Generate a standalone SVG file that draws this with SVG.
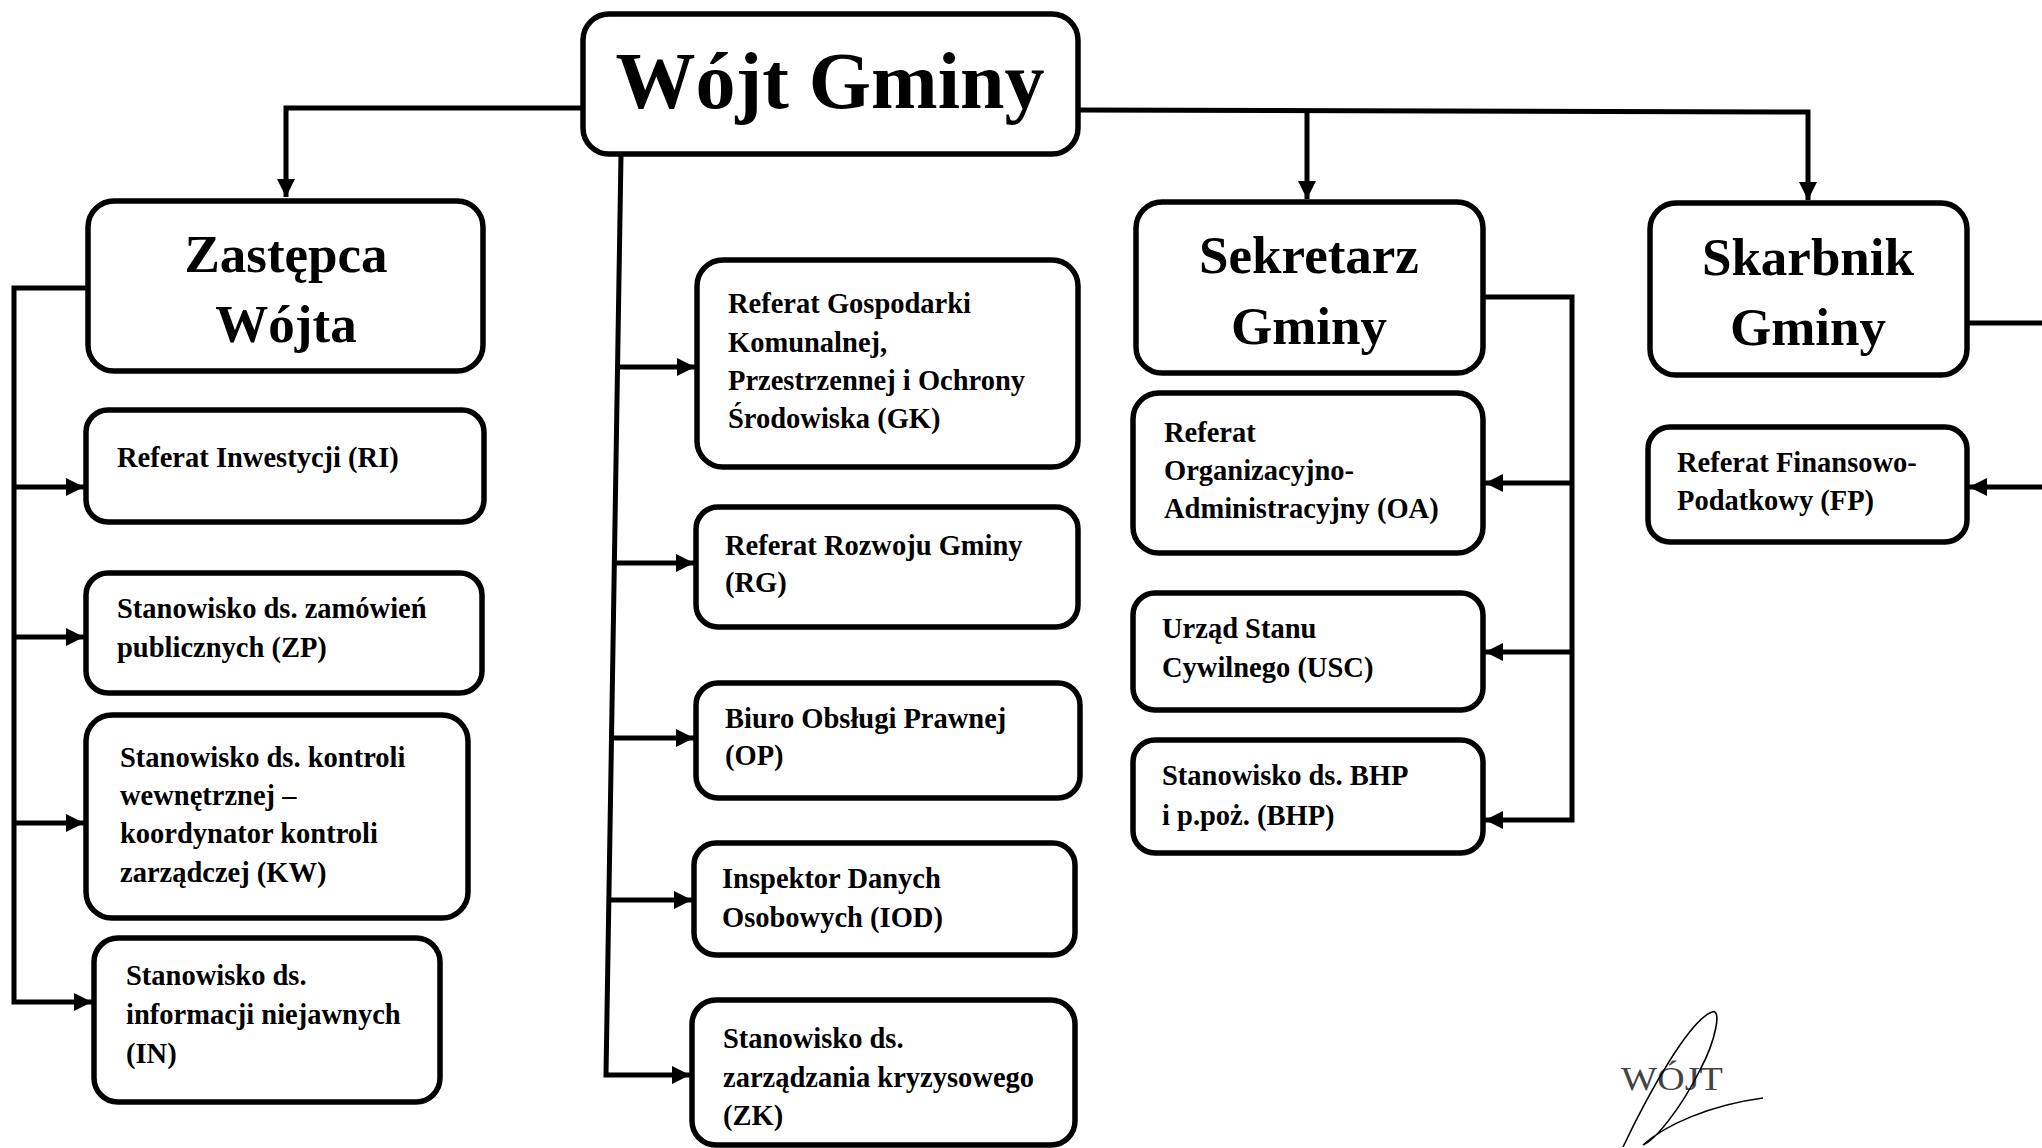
<svg xmlns="http://www.w3.org/2000/svg" width="2042" height="1148" viewBox="0 0 2042 1148">
<style>
.box{fill:#fff;stroke:#000;stroke-width:5.5}
.t{font-family:"Liberation Serif","Times New Roman",serif;font-weight:bold;fill:#000}
.s{font-size:28.5px}
.h{font-size:53px;text-anchor:middle}
.c{fill:none;stroke:#000;stroke-width:5}
</style>
<defs>
<marker id="ar" markerUnits="userSpaceOnUse" markerWidth="20" markerHeight="20" refX="18" refY="9" orient="auto">
<path d="M0,0 L18,9 L0,18 z" fill="#000"/>
</marker>
</defs>
<rect width="2042" height="1148" fill="#fff"/>
<g id="connectors">
<polyline class="c" points="583,108 286,108 286,197" marker-end="url(#ar)"/>
<polyline class="c" points="1078,110 1808,112 1808,200" marker-end="url(#ar)"/>
<polyline class="c" points="1307,111 1307,199" marker-end="url(#ar)"/>
<polyline class="c" points="88,288 14,288 14,1002 92,1002" marker-end="url(#ar)"/>
<line class="c" x1="14" y1="487" x2="84" y2="487" marker-end="url(#ar)"/>
<line class="c" x1="14" y1="637" x2="84" y2="637" marker-end="url(#ar)"/>
<line class="c" x1="14" y1="823" x2="84" y2="823" marker-end="url(#ar)"/>
<polyline class="c" points="621,155 606,1075 690,1075" marker-end="url(#ar)"/>
<line class="c" x1="619" y1="367" x2="695" y2="367" marker-end="url(#ar)"/>
<line class="c" x1="615" y1="563" x2="694" y2="563" marker-end="url(#ar)"/>
<line class="c" x1="612" y1="738" x2="694" y2="738" marker-end="url(#ar)"/>
<line class="c" x1="609" y1="900" x2="692" y2="900" marker-end="url(#ar)"/>
<polyline class="c" points="1483,297 1572,297 1572,820 1485,820" marker-end="url(#ar)"/>
<line class="c" x1="1572" y1="483" x2="1485" y2="483" marker-end="url(#ar)"/>
<line class="c" x1="1572" y1="652" x2="1485" y2="652" marker-end="url(#ar)"/>
<line class="c" x1="1967" y1="323" x2="2050" y2="323"/>
<line class="c" x1="2050" y1="487" x2="1969" y2="487" marker-end="url(#ar)"/>
</g>
<g id="wojt">
<rect class="box" x="583" y="14" width="495" height="140" rx="26"/>
<text class="t" x="830" y="108" font-size="80" text-anchor="middle">Wójt Gminy</text>
</g>
<g id="zastepca">
<rect class="box" x="88" y="201" width="395" height="170" rx="26"/>
<text class="t h" x="286" y="272">Zastępca</text>
<text class="t h" x="286" y="342">Wójta</text>
</g>
<g id="sekretarz">
<rect class="box" x="1136" y="202" width="347" height="171" rx="26"/>
<text class="t h" x="1309" y="273">Sekretarz</text>
<text class="t h" x="1309" y="344">Gminy</text>
</g>
<g id="skarbnik">
<rect class="box" x="1650" y="203" width="317" height="172" rx="26"/>
<text class="t h" x="1808" y="275">Skarbnik</text>
<text class="t h" x="1808" y="345">Gminy</text>
</g>
<g id="ri">
<rect class="box" x="86" y="410" width="398" height="112" rx="22"/>
<text class="t s" x="117" y="467">Referat Inwestycji (RI)</text>
</g>
<g id="zp">
<rect class="box" x="86" y="573" width="396" height="120" rx="22"/>
<text class="t s" x="117" y="618">Stanowisko ds. zamówień</text>
<text class="t s" x="117" y="657">publicznych (ZP)</text>
</g>
<g id="kw">
<rect class="box" x="86" y="715" width="382" height="203" rx="26"/>
<text class="t s" x="120" y="767">Stanowisko ds. kontroli</text>
<text class="t s" x="120" y="805">wewnętrznej –</text>
<text class="t s" x="120" y="843">koordynator kontroli</text>
<text class="t s" x="120" y="882">zarządczej (KW)</text>
</g>
<g id="in">
<rect class="box" x="94" y="938" width="346" height="164" rx="24"/>
<text class="t s" x="126" y="985">Stanowisko ds.</text>
<text class="t s" x="126" y="1024">informacji niejawnych</text>
<text class="t s" x="126" y="1063">(IN)</text>
</g>
<g id="gk">
<rect class="box" x="697" y="260" width="381" height="207" rx="26"/>
<text class="t s" x="728" y="313">Referat Gospodarki</text>
<text class="t s" x="728" y="352">Komunalnej,</text>
<text class="t s" x="728" y="390">Przestrzennej i Ochrony</text>
<text class="t s" x="728" y="428">Środowiska (GK)</text>
</g>
<g id="rg">
<rect class="box" x="696" y="507" width="382" height="120" rx="22"/>
<text class="t s" x="725" y="555">Referat Rozwoju Gminy</text>
<text class="t s" x="725" y="592">(RG)</text>
</g>
<g id="op">
<rect class="box" x="696" y="683" width="384" height="115" rx="22"/>
<text class="t s" x="725" y="728">Biuro Obsługi Prawnej</text>
<text class="t s" x="725" y="765">(OP)</text>
</g>
<g id="iod">
<rect class="box" x="694" y="843" width="381" height="112" rx="22"/>
<text class="t s" x="722" y="888">Inspektor Danych</text>
<text class="t s" x="722" y="927">Osobowych (IOD)</text>
</g>
<g id="zk">
<rect class="box" x="692" y="1000" width="383" height="145" rx="24"/>
<text class="t s" x="723" y="1048">Stanowisko ds.</text>
<text class="t s" x="723" y="1087">zarządzania kryzysowego</text>
<text class="t s" x="723" y="1125">(ZK)</text>
</g>
<g id="oa">
<rect class="box" x="1133" y="393" width="350" height="160" rx="26"/>
<text class="t s" x="1164" y="442">Referat</text>
<text class="t s" x="1164" y="480">Organizacyjno-</text>
<text class="t s" x="1164" y="518">Administracyjny (OA)</text>
</g>
<g id="usc">
<rect class="box" x="1133" y="593" width="350" height="117" rx="22"/>
<text class="t s" x="1162" y="638">Urząd Stanu</text>
<text class="t s" x="1162" y="677">Cywilnego (USC)</text>
</g>
<g id="bhp">
<rect class="box" x="1133" y="740" width="350" height="113" rx="22"/>
<text class="t s" x="1162" y="785">Stanowisko ds. BHP</text>
<text class="t s" x="1162" y="825">i p.poż. (BHP)</text>
</g>
<g id="fp">
<rect class="box" x="1648" y="427" width="319" height="115" rx="22"/>
<text class="t s" x="1677" y="472">Referat Finansowo-</text>
<text class="t s" x="1677" y="510">Podatkowy (FP)</text>
</g>
<g id="signature">
<text x="1621" y="1090" font-family="Liberation Serif, serif" font-size="33" fill="#444" textLength="102" lengthAdjust="spacingAndGlyphs">WÓJT</text>
<path d="M1623,1147 C1650,1090 1690,1020 1712,1012 C1722,1008 1716,1040 1700,1070 C1680,1110 1655,1140 1643,1145 C1665,1125 1710,1105 1763,1098" fill="none" stroke="#000" stroke-width="1.6"/>
</g>
</svg>
